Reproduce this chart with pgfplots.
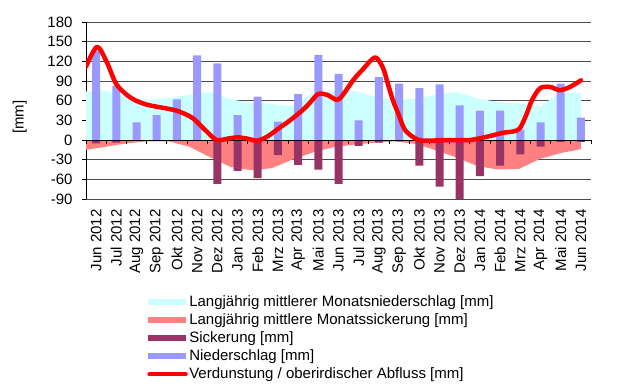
\documentclass[border=0pt]{standalone}
\usepackage{pgfplots}
\pgfplotsset{compat=1.18}
\usepackage{fontspec}
\setmainfont{Liberation Sans}
\definecolor{lcyan}{HTML}{CCFFFF}
\definecolor{lsalmon}{HTML}{FF8080}
\definecolor{maroon}{HTML}{993366}
\definecolor{lblue}{HTML}{9999FF}
\newcommand{\ff}{\fontsize{15}{17}\selectfont}
\begin{document}
\begin{tikzpicture}
\path[use as bounding box] (0,0) rectangle (640pt,386pt);
\begin{axis}[
  at={(86pt,187pt)}, anchor=south west, scale only axis,
  width=505pt, height=177pt,
  xmin=-0.5, xmax=24.5, ymin=-90, ymax=180,
  axis y line*=left, axis x line*=bottom,
  x axis line style={draw=none},
  y axis line style={black, line width=0.8pt},
  xtick={0,...,24},
  xticklabels={Jun 2012,Jul 2012,Aug 2012,Sep 2012,Okt 2012,Nov 2012,Dez 2012,Jan 2013,Feb 2013,Mrz 2013,Apr 2013,Mai 2013,Jun 2013,Jul 2013,Aug 2013,Sep 2013,Okt 2013,Nov 2013,Dez 2013,Jan 2014,Feb 2014,Mrz 2014,Apr 2014,Mai 2014,Jun 2014},
  xtick style={draw=none},
  xticklabel style={rotate=90, anchor=east, font=\ff},
  xticklabel shift=3pt,
  ytick={-90,-60,...,180},
  ymajorgrids, grid style={black!70, line width=0.7pt},
  ytick style={black, line width=0.8pt},
  tick align=outside, major tick length=4pt,
  yticklabel style={font=\ff, /pgf/number format/assume math mode=true},
  yticklabel shift=6pt,
  ylabel={[mm]},
  ylabel style={at={(axis description cs:-0.131,0.463)}, anchor=center, font=\ff},
  legend cell align=left,
  legend style={at={(axis description cs:0.121,-0.537)}, anchor=north west,
    draw=none, fill=none, font=\ff, row sep=2.7pt, inner sep=0pt,
    nodes={inner sep=1.5pt}},
]
\addplot[draw=none, fill=lcyan,
  legend image code/.code={\fill[lcyan] (0pt,-2.7pt) rectangle (38pt,2.7pt);}]
  coordinates {(-0.5,0) (-0.5,74) (0.5208,75) (1.5417,66) (2.5625,61) (3.5833,64) (4.6042,69) (5.625,73) (6.6458,62) (7.6667,57) (8.6875,55) (9.7083,51) (10.7292,72) (11.75,74) (12.7708,75) (13.7917,66) (14.8125,61) (15.8333,63) (16.8542,69) (17.875,73) (18.8958,63) (19.9167,58) (20.9375,56) (21.9583,51) (22.9792,72) (24,72) (24,0)} \closedcycle;
\addlegendentry{Langjährig mittlerer Monatsniederschlag [mm]}
\addplot[draw=none, fill=lsalmon,
  legend image code/.code={\fill[lsalmon] (0pt,-2.7pt) rectangle (38pt,2.7pt);}]
  coordinates {(-0.5,0) (-0.5,-15) (0.5208,-10) (1.5417,-5) (2.5625,-2) (3.5833,-2) (4.6042,-10) (5.625,-26) (6.6458,-41) (7.6667,-46) (8.6875,-43) (9.7083,-30) (10.7292,-19) (11.75,-11) (12.7708,-7) (13.7917,-4) (14.8125,-2) (15.8333,-6) (16.8542,-16) (17.875,-27) (18.8958,-40) (19.9167,-45) (20.9375,-44) (21.9583,-29) (22.9792,-20) (24,-14) (24,0)} \closedcycle;
\addlegendentry{Langjährig mittlere Monatssickerung [mm]}
\addplot[ybar, bar width=8pt, bar shift=0pt, draw=none, fill=maroon,
  legend image code/.code={\fill[maroon] (0pt,-2.7pt) rectangle (38pt,2.7pt);}]
  coordinates {(0,-5) (1,-4) (2,-1.5) (3,-1.5) (4,-1) (5,0) (6,-67) (7,-47) (8,-58) (9,-23) (10,-38) (11,-45) (12,-67) (13,-9) (14,-4) (15,-2) (16,-39) (17,-71) (18,-90) (19,-55) (20,-39) (21,-22) (22,-10) (23,-3) (24,-3)};
\addlegendentry{Sickerung [mm]}
\addplot[ybar, bar width=8pt, bar shift=0pt, draw=none, fill=lblue,
  legend image code/.code={\fill[lblue] (0pt,-2.7pt) rectangle (38pt,2.7pt);}]
  coordinates {(0,136) (1,83) (2,27) (3,38) (4,62) (5,129) (6,117) (7,38) (8,66) (9,28) (10,70) (11,130) (12,101) (13,30) (14,96) (15,86) (16,79) (17,85) (18,53) (19,45) (20,45) (21,16) (22,27) (23,86) (24,34)};
\addlegendentry{Niederschlag [mm]}
\addlegendimage{red, line width=4.5pt, line cap=round,
  legend image code/.code={\draw[red, line width=4.5pt, line cap=round] (2pt,0pt) -- (38pt,0pt);}}
\addlegendentry{Verdunstung / oberirdischer Abfluss [mm]}
\end{axis}
\begin{axis}[
  at={(86pt,187pt)}, anchor=south west, scale only axis,
  width=505pt, height=177pt,
  xmin=-0.5, xmax=24.5, ymin=-90, ymax=180,
  axis x line=middle, axis y line=none,
  x axis line style={-, black, line width=0.8pt},
  xtick={-0.5,0.5,...,24.5}, xticklabels={}, ytick=\empty,
  xtick align=outside, major tick length=4pt,
  xtick style={black, line width=0.8pt},
]
\addplot[red, line width=4.5pt, smooth, tension=0.5, line cap=round, line join=round]
  coordinates {(-0.5,112) (0.045,142) (0.525,119) (0.985,86) (1.515,69) (1.975,60) (2.505,54) (2.965,51) (3.955,45) (4.65,36) (4.98,28) (5.475,13) (5.97,0) (6.5,2) (7.0,4) (7.5,2) (7.97,-1) (8.46,5) (9.1,19) (9.6,30) (10.24,46) (10.59,57) (10.99,70) (11.43,69) (11.93,61) (12.22,69) (12.72,91) (13.21,108) (13.81,126) (14.2,110) (14.45,85) (14.7,60) (14.95,41) (15.3,15) (15.89,1) (16.38,-1) (17.52,0) (18.51,0) (19.35,5) (20.14,11) (20.64,13) (20.98,18) (21.33,41) (21.58,61) (21.98,79) (22.47,81) (22.96,76) (23.46,81) (24.0,91)};
\end{axis}
\end{tikzpicture}
\end{document}
